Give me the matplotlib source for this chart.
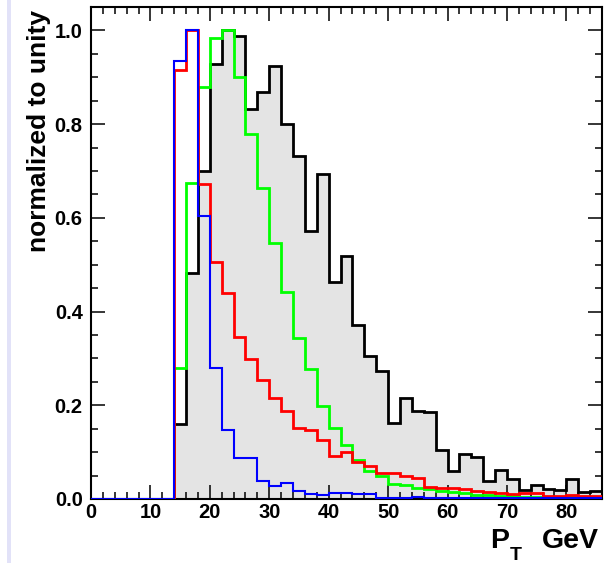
import numpy as np
import matplotlib
matplotlib.use("Agg")
import matplotlib.pyplot as plt
from matplotlib.patches import Rectangle
from matplotlib.ticker import MultipleLocator, FormatStrFormatter

plt.rcParams["font.family"] = ["Liberation Sans", "DejaVu Sans"]
plt.rcParams["font.weight"] = "bold"

# 2 GeV bins from 0 to 86 GeV
bin_edges = np.arange(0, 88, 2)

zeros7 = [0.0] * 7
black_vals = zeros7 + [0.160, 0.483, 0.700, 0.929, 1.000, 0.989, 0.833, 0.868, 0.925,
                       0.801, 0.732, 0.572, 0.693, 0.463, 0.518, 0.371, 0.305, 0.273,
                       0.163, 0.215, 0.188, 0.185, 0.104, 0.060, 0.096, 0.089, 0.039,
                       0.062, 0.042, 0.019, 0.030, 0.021, 0.019, 0.042, 0.014, 0.018]
green_vals = zeros7 + [0.280, 0.674, 0.879, 0.984, 1.000, 0.900, 0.778, 0.664, 0.547,
                       0.441, 0.344, 0.277, 0.199, 0.152, 0.115, 0.083, 0.060, 0.049,
                       0.033, 0.030, 0.024, 0.021, 0.018, 0.014, 0.013, 0.009, 0.008,
                       0.007, 0.006, 0.005, 0.005, 0.005, 0.005, 0.004, 0.004, 0.004]
red_vals = zeros7 + [0.916, 1.000, 0.673, 0.506, 0.439, 0.346, 0.298, 0.254, 0.215,
                     0.188, 0.151, 0.148, 0.126, 0.092, 0.100, 0.078, 0.071, 0.056,
                     0.056, 0.049, 0.044, 0.026, 0.023, 0.023, 0.022, 0.018, 0.014,
                     0.013, 0.011, 0.012, 0.012, 0.007, 0.007, 0.009, 0.007, 0.006]
blue_vals = zeros7 + [0.934, 1.000, 0.603, 0.280, 0.147, 0.087, 0.088, 0.039, 0.028,
                      0.035, 0.018, 0.010, 0.009, 0.012, 0.012, 0.011, 0.011, 0.002,
                      0.002, 0.002, 0.005, 0.003, 0.002, 0.002, 0.002, 0.002, 0.002,
                      0.002, 0.002, 0.002, 0.002, 0.002, 0.002, 0.002, 0.002, 0.002]

x_ticks = [0, 10, 20, 30, 40, 50, 60, 70, 80]
y_ticks = [0.0, 0.2, 0.4, 0.6, 0.8, 1.0]

W, H = 609, 563
fig = plt.figure(figsize=(W / 100, H / 100), dpi=100)
fig.patch.set_facecolor("white")

# thin lavender strip on the left of the canvas
fig.patches.append(Rectangle((7 / W, 0), 4 / W, 1.0, transform=fig.transFigure,
                             facecolor="#e2e2f8", edgecolor="none", zorder=0))

ax = fig.add_axes([91 / W, 1 - 499 / H, (602 - 91) / W, (499 - 7) / H])

# filled reference histogram
ax.stairs(black_vals, bin_edges, fill=True, color="#e4e4e4", zorder=1)
ax.stairs(black_vals, bin_edges, baseline=None, color="black", lw=2.0, zorder=3)
ax.stairs(green_vals, bin_edges, baseline=None, color="#00ff00", lw=2.0, zorder=3.1)
ax.stairs(red_vals, bin_edges, baseline=None, color="#ff0000", lw=2.0, zorder=3.2)
ax.stairs(blue_vals, bin_edges, baseline=None, color="#0000ff", lw=1.5, zorder=3.3)

ax.set_xlim(0, 86)
ax.set_ylim(0, 1.05)

for s in ax.spines.values():
    s.set_linewidth(1.5)
    s.set_zorder(2.5)

ax.set_xticks(x_ticks)
ax.set_yticks(y_ticks)
ax.xaxis.set_minor_locator(MultipleLocator(2))
ax.yaxis.set_minor_locator(MultipleLocator(0.05))
ax.yaxis.set_major_formatter(FormatStrFormatter("%.1f"))
ax.tick_params(which="both", direction="in", top=True, right=True, width=1.1,
               labelsize=14.5, colors="black")
ax.tick_params(which="major", length=10)
ax.tick_params(which="minor", length=5)
ax.tick_params(axis="y", pad=6)
ax.tick_params(axis="x", pad=3)
for lab in ax.get_xticklabels() + ax.get_yticklabels():
    lab.set_fontweight("bold")

# axis titles
fig.text(39 / W, 1 - 10 / H, "normalized to unity", rotation=90, ha="center", va="top",
         fontsize=19, fontweight="bold")
fig.text(490 / W, 1 - 548 / H, "P", ha="left", va="baseline", fontsize=20.5, fontweight="bold")
fig.text(510 / W, 1 - 560 / H, "T", ha="left", va="baseline", fontsize=14, fontweight="bold")
fig.text(599 / W, 1 - 548 / H, "GeV", ha="right", va="baseline", fontsize=20.5, fontweight="bold")

fig.savefig("out.png", dpi=100)
